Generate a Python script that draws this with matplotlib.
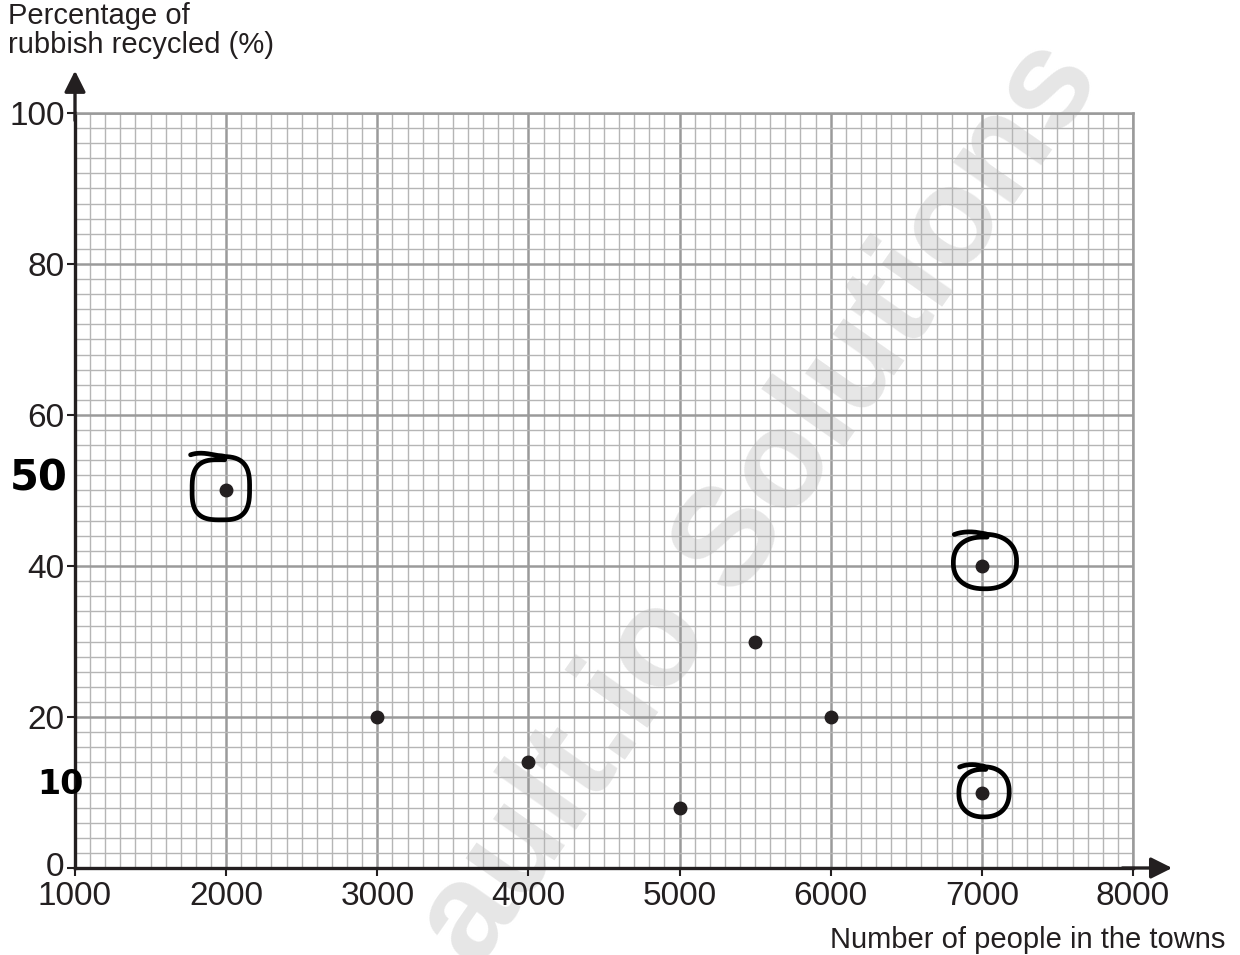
import numpy as np
import matplotlib.pyplot as plt
from matplotlib.ticker import MultipleLocator
from matplotlib.transforms import ScaledTranslation

# data
people = [2000, 3000, 4000, 5000, 5500, 6000, 7000, 7000]
recycled = [50, 20, 14, 8, 30, 20, 40, 10]

# circled points (hand drawn loops)
circled_x = [2000, 7000, 7000]
circled_y = [50, 40, 10]

x_ticks = [1000, 2000, 3000, 4000, 5000, 6000, 7000, 8000]
y_ticks = [0, 20, 40, 60, 80, 100]

plt.rcParams['font.family'] = ['Liberation Sans', 'DejaVu Sans']

fig = plt.figure(figsize=(12.4, 9.55), dpi=100)
ax = fig.add_axes([75/1240, 87/955, (1133-75)/1240, (868-113)/955])

ax.set_xlim(1000, 8000)
ax.set_ylim(0, 100)
ax.xaxis.set_minor_locator(MultipleLocator(100))
ax.yaxis.set_minor_locator(MultipleLocator(2))
ax.set_xticks(x_ticks)
ax.set_yticks(y_ticks)
ax.set_axisbelow(True)
ax.grid(which='minor', color='#b5b5b5', lw=1.0)
ax.grid(which='major', color='#9a9a9a', lw=1.8)
ax.tick_params(which='minor', length=0)
ax.tick_params(which='major', direction='out', length=6, width=1.5,
               labelsize=24, colors='#231f20', pad=1)
ax.tick_params(axis='x', pad=3)
ax.tick_params(axis='y', pad=1.5)

# lift the "0" label a touch so it clears "1000"
lab0 = ax.yaxis.get_major_ticks()[0].label1
lab0.set_transform(lab0.get_transform() +
                   ScaledTranslation(0, 3/72, fig.dpi_scale_trans))

for s in ['left', 'bottom']:
    ax.spines[s].set_color('#231f20')
    ax.spines[s].set_linewidth(2.4)
for s in ['top', 'right']:
    ax.spines[s].set_color('#9a9a9a')
    ax.spines[s].set_linewidth(1.8)

# axis arrows
ax.annotate('', xy=(0, 1.056), xytext=(0, 0.99), xycoords='axes fraction',
            arrowprops=dict(arrowstyle='-|>', color='#231f20', lw=2.4,
                            mutation_scale=32, shrinkA=0, shrinkB=0))
ax.annotate('', xy=(1.037, 0), xytext=(0.99, 0), xycoords='axes fraction',
            arrowprops=dict(arrowstyle='-|>', color='#231f20', lw=2.4,
                            mutation_scale=32, shrinkA=0, shrinkB=0))

# watermark
ax.text(0.613, 0.472, 'ault.io Solutions', transform=fig.transFigure,
        rotation=55, rotation_mode='anchor', ha='center', va='center',
        fontsize=101, fontweight='bold', color='#e6e6e6', zorder=0.1,
        clip_on=False)

ax.plot(people, recycled, 'o', color='#231f20', ms=9, zorder=5)

# hand drawn loops around the circled points
loop_rx = [200, 220, 175]
loop_ry = [4.3, 3.7, 3.4]
loop_dx = [-40, 15, 10]
loop_dy = [0.2, 0.5, 0.0]
loop_n = [3.0, 2.3, 2.3]
for cx, cy, rx, ry, dx, dy, n in zip(circled_x, circled_y, loop_rx, loop_ry,
                                     loop_dx, loop_dy, loop_n):
    t = np.linspace(0, 2*np.pi + 0.8, 240)
    c, s = np.cos(t + 1.5), np.sin(t + 1.5)
    scale = np.where(t < 2*np.pi, 0.9 + 0.1 * t / (2*np.pi),
                     1 + 0.35 * (t - 2*np.pi))
    xs = cx + dx + rx * scale * np.sign(c) * np.abs(c)**(2/n)
    ys = cy + dy + ry * scale * np.sign(s) * np.abs(s)**(2/n)
    ax.plot(xs, ys, color='black', lw=3.4, solid_capstyle='round', zorder=6)

# handwritten marks
fig.text(10/1240, 1-478/955, '50', fontsize=30, fontweight='bold',
         family='DejaVu Sans', va='center', ha='left', color='black')
fig.text(37/1240, 1-784/955, '10', fontsize=24, fontweight='bold',
         family='DejaVu Sans', va='center', ha='left', color='black')

fig.text(8/1240, 1-2/955, 'Percentage of\nrubbish recycled (%)', fontsize=21,
         va='top', ha='left', color='#231f20', linespacing=1.05)
fig.text(1225/1240, 1-940/955, 'Number of people in the towns', fontsize=21,
         va='center', ha='right', color='#231f20')

fig.savefig('out.png', dpi=100)
